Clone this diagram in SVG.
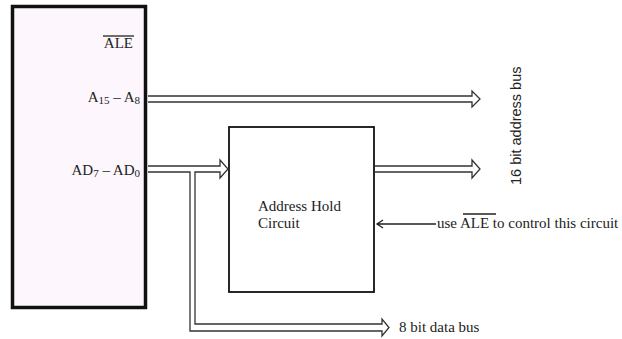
<svg xmlns="http://www.w3.org/2000/svg" width="622" height="339" viewBox="0 0 622 339">
<style>
.t{font-family:"Liberation Serif","Times New Roman",serif;font-size:15px;fill:#222}
.s{font-size:11px}
.bus{fill:none;stroke:#333;stroke-width:1.3}
.ln{fill:none;stroke:#222;stroke-width:1.3}
</style>
<rect width="622" height="339" fill="#ffffff"/>
<g id="cpu">
<rect x="12.5" y="6.5" width="133" height="301" fill="#fdf7fd" stroke="#111" stroke-width="3.5"/>
<text class="t" x="133" y="48" text-anchor="end">ALE</text>
<line class="ln" x1="103" y1="36" x2="134" y2="36"/>
<text class="t" x="140" y="102" text-anchor="end">A<tspan class="s" dy="2">15</tspan><tspan dy="-2"> – A</tspan><tspan class="s" dy="2">8</tspan></text>
<text class="t" x="140" y="175" text-anchor="end">AD<tspan class="s" dy="2">7</tspan><tspan dy="-2"> – AD</tspan><tspan class="s" dy="2">0</tspan></text>
</g>
<g id="hold">
<rect x="229" y="127" width="145" height="165" fill="#fff" stroke="#111" stroke-width="1.8"/>
<text class="t" x="258" y="211">Address Hold</text>
<text class="t" x="258" y="228">Circuit</text>
</g>
<g id="connectors">
<path class="bus" d="M148 96 H472 V91 L480 99 L472 107 V102 H148"/>
<path class="bus" d="M148 166 H220 V160 L228 169 L220 178 V172 H195 V324 H382 V319 L389 327.5 L382 336 V331 H190 V172 H148"/>
<path class="bus" d="M375 166 H472 V160 L480 169 L472 178 V172 H375"/>
<path class="ln" d="M436 224 H377 M383 220 L377 224 L383 228"/>
</g>
<g id="labels">
<text class="t" x="437" y="228">use ALE to control this circuit</text>
<line class="ln" x1="463" y1="214" x2="496" y2="214"/>
<text class="t" x="399" y="332">8 bit data bus</text>
<text x="521" y="185" transform="rotate(-90 521 185)" style="font-family:'Liberation Sans',Arial,sans-serif;font-size:14.5px;fill:#222">16 bit address bus</text>
</g>
</svg>
